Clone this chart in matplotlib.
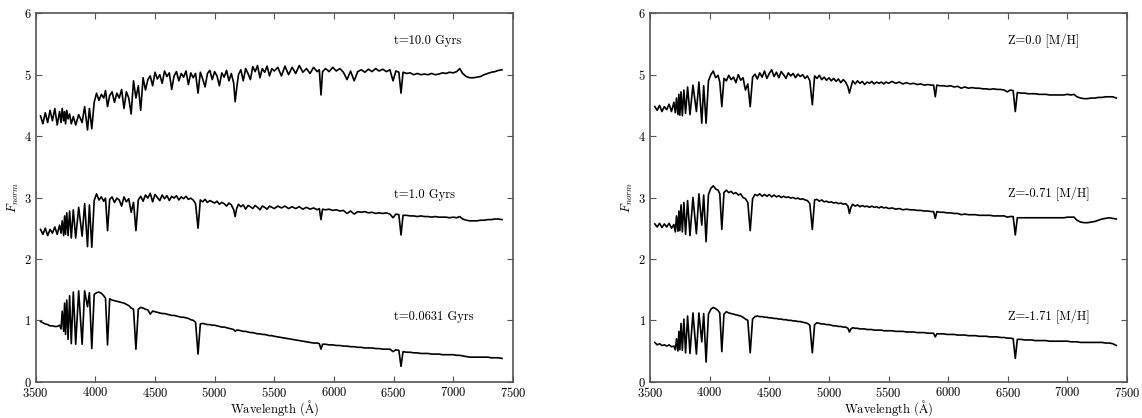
import matplotlib
matplotlib.use("Agg")
import matplotlib.pyplot as plt
import numpy as np

plt.rcParams['font.family'] = ['cmr10', 'DejaVu Serif']
plt.rcParams['mathtext.fontset'] = 'cm'
plt.rcParams['axes.formatter.use_mathtext'] = True

# ---------------- data ----------------
wave = ([3540, 3560, 3580, 3600, 3620, 3640, 3660, 3680, 3700]
        + [3712, 3722, 3734, 3742, 3750, 3760, 3771, 3784, 3798, 3815, 3835, 3860, 3889, 3910, 3934, 3950, 3970, 3990]
        + [4010, 4030, 4050, 4070, 4085, 4102, 4120, 4140, 4160, 4180, 4200, 4220, 4240, 4260, 4280, 4300, 4320, 4340, 4360, 4380]
        + [4400, 4420, 4440, 4460, 4480, 4500, 4520, 4540, 4560, 4580, 4600, 4620, 4640, 4660, 4680, 4700, 4720, 4740, 4760, 4780, 4800, 4820, 4840]
        + [4861, 4880, 4900, 4920, 4940, 4960, 4980, 5000, 5020, 5040, 5060, 5080, 5100, 5120, 5140, 5160, 5172, 5185, 5200, 5220, 5240, 5260, 5280, 5300, 5320, 5340, 5360, 5380, 5400, 5420, 5440, 5460, 5480, 5500]
        + [5530, 5560, 5590, 5620, 5650, 5680, 5710, 5740, 5770, 5800, 5830, 5860, 5878, 5892, 5905, 5930, 5960, 5990, 6020, 6050,
           6080, 6110, 6140, 6170, 6200, 6230, 6260, 6290, 6320, 6350, 6380, 6410, 6440, 6470, 6496, 6520, 6545, 6563, 6580, 6610,
           6640, 6670, 6700, 6730, 6760, 6790, 6820, 6850, 6880, 6910, 6940, 6970, 7000, 7030, 7055, 7080, 7110, 7140, 7170, 7200,
           7230, 7260, 7290, 7320, 7350, 7380, 7410])

# Left panel: age sequence
flux_t10 = ([4.33, 4.20, 4.38, 4.22, 4.42, 4.25, 4.45, 4.18, 4.40]
            + [4.22, 4.45, 4.25, 4.40, 4.20, 4.42, 4.28, 4.36, 4.20, 4.32, 4.18, 4.35, 4.22, 4.48, 4.10, 4.45, 4.12, 4.55]
            + [4.70, 4.58, 4.68, 4.62, 4.74, 4.48, 4.66, 4.72, 4.55, 4.70, 4.62, 4.76, 4.45, 4.72, 4.62, 4.36, 4.90, 4.62, 4.82, 4.42]
            + [4.95, 4.75, 4.92, 4.98, 4.82, 5.04, 4.93, 5.00, 4.86, 5.06, 4.97, 5.03, 4.76, 4.98, 5.05, 4.90, 5.02, 4.96, 5.06, 4.84, 5.03, 4.95, 5.02]
            + [4.70, 5.04, 4.93, 4.80, 5.02, 5.07, 4.92, 5.05, 4.98, 4.82, 5.03, 4.96, 5.07, 4.90, 5.02, 4.86, 4.56, 4.78, 5.00, 5.08, 4.90, 5.10, 5.02, 4.92, 5.13, 5.05, 5.15, 4.95, 5.10, 5.04, 5.14, 4.98, 5.10, 5.06]
            + [5.12, 4.98, 5.14, 5.00, 5.12, 5.02, 5.15, 5.04, 5.10, 5.02, 5.12, 5.05, 5.08, 4.67, 5.05, 5.10, 5.05, 5.12, 5.06, 5.10,
               5.04, 4.92, 5.06, 4.90, 5.05, 5.08, 5.04, 5.09, 5.05, 5.10, 5.06, 5.09, 5.05, 5.08, 4.90, 5.06, 5.04, 4.70, 5.04, 5.02,
               5.03, 5.00, 5.02, 5.00, 5.01, 5.00, 5.02, 5.00, 5.01, 5.03, 5.02, 5.04, 5.03, 5.05, 5.10, 5.02, 4.97, 4.95, 4.95, 4.96,
               4.97, 5.00, 5.02, 5.04, 5.05, 5.07, 5.08])

flux_t1 = ([2.48, 2.40, 2.50, 2.38, 2.48, 2.42, 2.52, 2.40, 2.55]
           + [2.42, 2.62, 2.38, 2.70, 2.40, 2.75, 2.38, 2.78, 2.34, 2.80, 2.34, 2.84, 2.37, 2.90, 2.20, 2.88, 2.19, 2.95]
           + [3.06, 2.96, 3.01, 2.94, 2.99, 2.46, 2.97, 3.01, 2.92, 2.99, 2.96, 2.86, 3.01, 2.93, 2.98, 2.76, 2.92, 2.46, 2.96, 3.02]
           + [2.94, 3.04, 2.99, 3.07, 2.93, 3.05, 3.00, 2.95, 3.04, 2.98, 3.03, 2.95, 3.02, 2.99, 3.03, 2.96, 3.01, 2.98, 3.02, 2.97, 2.99, 2.96, 2.90]
           + [2.50, 2.96, 2.93, 2.97, 2.92, 2.95, 2.93, 2.91, 2.94, 2.89, 2.92, 2.90, 2.86, 2.91, 2.88, 2.80, 2.69, 2.82, 2.89, 2.85, 2.88, 2.81, 2.87, 2.85, 2.82, 2.87, 2.84, 2.80, 2.86, 2.84, 2.81, 2.86, 2.84, 2.82]
           + [2.86, 2.83, 2.86, 2.82, 2.85, 2.82, 2.85, 2.81, 2.84, 2.81, 2.83, 2.80, 2.82, 2.64, 2.81, 2.80, 2.81, 2.79, 2.80, 2.78,
              2.79, 2.74, 2.78, 2.73, 2.77, 2.76, 2.77, 2.75, 2.76, 2.74, 2.75, 2.74, 2.75, 2.73, 2.67, 2.73, 2.72, 2.39, 2.71, 2.71,
              2.70, 2.70, 2.69, 2.70, 2.69, 2.69, 2.68, 2.69, 2.68, 2.68, 2.68, 2.67, 2.68, 2.67, 2.69, 2.65, 2.63, 2.62, 2.62, 2.62,
              2.63, 2.63, 2.64, 2.64, 2.65, 2.65, 2.64])

flux_t0063 = ([0.98, 0.96, 0.94, 0.93, 0.91, 0.91, 0.90, 0.90, 0.92]
              + [0.86, 1.15, 0.82, 1.28, 0.77, 1.33, 0.69, 1.40, 0.62, 1.46, 0.61, 1.48, 0.61, 1.48, 1.22, 1.45, 0.54, 1.42]
              + [1.45, 1.46, 1.44, 1.40, 1.36, 0.60, 1.35, 1.33, 1.32, 1.31, 1.30, 1.29, 1.28, 1.26, 1.24, 1.20, 1.18, 0.53, 1.18, 1.21]
              + [1.20, 1.18, 1.17, 1.10, 1.15, 1.14, 1.13, 1.12, 1.11, 1.11, 1.10, 1.09, 1.08, 1.08, 1.07, 1.06, 1.05, 1.05, 1.04, 1.03, 1.01, 1.00, 0.97]
              + [0.45, 0.94, 0.95, 0.94, 0.93, 0.93, 0.92, 0.92, 0.91, 0.90, 0.89, 0.89, 0.88, 0.87, 0.86, 0.85, 0.82, 0.84, 0.84, 0.83, 0.82, 0.82, 0.81, 0.80, 0.80, 0.79, 0.78, 0.78, 0.77, 0.77, 0.76, 0.75, 0.75, 0.74]
              + [0.73, 0.72, 0.71, 0.70, 0.69, 0.68, 0.67, 0.66, 0.65, 0.64, 0.63, 0.63, 0.62, 0.53, 0.61, 0.61, 0.60, 0.60, 0.59, 0.59,
                 0.58, 0.58, 0.57, 0.57, 0.56, 0.56, 0.55, 0.55, 0.55, 0.54, 0.54, 0.53, 0.53, 0.53, 0.49, 0.52, 0.51, 0.25, 0.49, 0.48,
                 0.48, 0.47, 0.47, 0.46, 0.46, 0.46, 0.45, 0.45, 0.45, 0.44, 0.44, 0.44, 0.44, 0.43, 0.43, 0.42, 0.41, 0.40, 0.40, 0.40,
                 0.40, 0.40, 0.40, 0.39, 0.39, 0.39, 0.38])

# Right panel: metallicity sequence
flux_z00 = ([4.48, 4.42, 4.50, 4.40, 4.48, 4.43, 4.52, 4.40, 4.55]
            + [4.38, 4.62, 4.35, 4.68, 4.34, 4.72, 4.33, 4.75, 4.37, 4.80, 4.35, 4.83, 4.40, 4.88, 4.21, 4.82, 4.21, 4.90]
            + [5.00, 5.06, 4.95, 4.99, 4.88, 4.48, 4.94, 4.90, 4.99, 4.92, 4.96, 4.87, 5.00, 4.91, 4.95, 4.75, 4.85, 4.48, 4.96, 5.01]
            + [4.93, 5.03, 4.96, 5.06, 4.94, 5.02, 5.08, 4.97, 5.04, 4.95, 5.05, 5.00, 4.94, 5.03, 4.98, 5.02, 4.95, 5.01, 4.97, 5.00, 4.94, 4.98, 4.90]
            + [4.51, 4.98, 4.94, 4.99, 4.92, 4.96, 4.91, 4.95, 4.90, 4.94, 4.89, 4.93, 4.87, 4.92, 4.88, 4.80, 4.70, 4.80, 4.90, 4.85, 4.90, 4.86, 4.89, 4.84, 4.88, 4.86, 4.89, 4.85, 4.88, 4.86, 4.88, 4.85, 4.88, 4.86]
            + [4.89, 4.86, 4.88, 4.85, 4.87, 4.85, 4.86, 4.84, 4.85, 4.83, 4.84, 4.83, 4.83, 4.64, 4.83, 4.82, 4.82, 4.81, 4.82, 4.80,
               4.81, 4.78, 4.80, 4.78, 4.79, 4.78, 4.78, 4.77, 4.77, 4.76, 4.77, 4.76, 4.76, 4.75, 4.72, 4.75, 4.74, 4.40, 4.71, 4.70,
               4.70, 4.69, 4.69, 4.69, 4.68, 4.68, 4.68, 4.67, 4.67, 4.67, 4.67, 4.67, 4.68, 4.67, 4.68, 4.64, 4.62, 4.61, 4.61, 4.62,
               4.62, 4.63, 4.63, 4.64, 4.64, 4.64, 4.62])

flux_zm071 = ([2.57, 2.52, 2.58, 2.51, 2.57, 2.52, 2.58, 2.50, 2.56]
              + [2.44, 2.70, 2.45, 2.78, 2.46, 2.88, 2.44, 2.92, 2.40, 2.95, 2.38, 3.00, 2.41, 3.06, 2.55, 3.04, 2.28, 3.05]
              + [3.15, 3.19, 3.14, 3.12, 3.06, 2.48, 3.08, 3.12, 3.08, 3.10, 3.06, 3.08, 3.04, 3.06, 3.00, 2.98, 2.92, 2.46, 2.98, 3.05]
              + [3.03, 3.06, 3.02, 3.05, 3.02, 3.05, 3.01, 3.04, 3.01, 3.03, 3.00, 3.02, 3.00, 3.01, 2.99, 3.00, 2.98, 2.99, 2.97, 2.98, 2.96, 2.95, 2.90]
              + [2.48, 2.96, 2.97, 2.94, 2.96, 2.93, 2.94, 2.92, 2.93, 2.91, 2.92, 2.90, 2.91, 2.89, 2.90, 2.86, 2.74, 2.84, 2.89, 2.86, 2.88, 2.85, 2.87, 2.85, 2.86, 2.84, 2.86, 2.84, 2.85, 2.83, 2.85, 2.83, 2.84, 2.82]
              + [2.83, 2.81, 2.82, 2.80, 2.81, 2.80, 2.80, 2.79, 2.79, 2.78, 2.78, 2.77, 2.77, 2.66, 2.77, 2.76, 2.76, 2.75, 2.75, 2.74,
                 2.74, 2.72, 2.73, 2.72, 2.72, 2.72, 2.71, 2.71, 2.71, 2.71, 2.70, 2.70, 2.70, 2.70, 2.68, 2.69, 2.69, 2.39, 2.67, 2.67,
                 2.67, 2.67, 2.67, 2.67, 2.67, 2.67, 2.67, 2.67, 2.67, 2.67, 2.67, 2.67, 2.68, 2.68, 2.68, 2.63, 2.60, 2.59, 2.59, 2.60,
                 2.61, 2.63, 2.65, 2.66, 2.67, 2.66, 2.65])

flux_zm171 = ([0.64, 0.60, 0.62, 0.59, 0.60, 0.58, 0.60, 0.57, 0.58]
              + [0.52, 0.70, 0.50, 0.82, 0.52, 0.95, 0.51, 1.02, 0.47, 1.07, 0.46, 1.12, 0.45, 1.12, 0.65, 1.11, 0.32, 1.10]
              + [1.18, 1.21, 1.19, 1.16, 1.12, 0.49, 1.10, 1.14, 1.12, 1.11, 1.10, 1.09, 1.08, 1.07, 1.05, 1.02, 1.00, 0.47, 1.02, 1.06]
              + [1.07, 1.06, 1.06, 1.05, 1.05, 1.04, 1.04, 1.03, 1.03, 1.02, 1.02, 1.01, 1.01, 1.00, 1.00, 0.99, 0.99, 0.98, 0.98, 0.97, 0.96, 0.95, 0.92]
              + [0.47, 0.93, 0.96, 0.95, 0.94, 0.94, 0.93, 0.93, 0.92, 0.91, 0.91, 0.90, 0.90, 0.89, 0.89, 0.87, 0.81, 0.86, 0.88, 0.87, 0.87, 0.86, 0.86, 0.86, 0.85, 0.85, 0.85, 0.84, 0.84, 0.84, 0.84, 0.83, 0.83, 0.83]
              + [0.83, 0.82, 0.82, 0.82, 0.81, 0.81, 0.81, 0.80, 0.80, 0.80, 0.79, 0.79, 0.79, 0.73, 0.78, 0.78, 0.78, 0.77, 0.77, 0.77,
                 0.76, 0.76, 0.76, 0.75, 0.75, 0.75, 0.74, 0.74, 0.74, 0.73, 0.73, 0.73, 0.72, 0.72, 0.71, 0.71, 0.70, 0.38, 0.69, 0.69,
                 0.68, 0.68, 0.68, 0.67, 0.67, 0.67, 0.67, 0.66, 0.66, 0.66, 0.66, 0.66, 0.66, 0.65, 0.65, 0.65, 0.64, 0.64, 0.64, 0.64,
                 0.64, 0.64, 0.64, 0.63, 0.63, 0.62, 0.59])

left_labels = ['t=10.0 Gyrs', 't=1.0 Gyrs', 't=0.0631 Gyrs']
right_labels = ['Z=0.0 [M/H]', 'Z=-0.71 [M/H]', 'Z=-1.71 [M/H]']
label_y = [5.5, 3.0, 1.0]
label_x = 6500

x_ticks = [3500, 4000, 4500, 5000, 5500, 6000, 6500, 7000, 7500]
y_ticks = [0, 1, 2, 3, 4, 5, 6]

for f in (flux_t10, flux_t1, flux_t0063, flux_z00, flux_zm071, flux_zm171):
    assert len(f) == len(wave), (len(f), len(wave))

# ---------------- plot ----------------
fig = plt.figure(figsize=(11.42, 4.18), dpi=100)
ax1 = fig.add_axes([0.0313, 0.0868, 0.4177, 0.8814])
ax2 = fig.add_axes([0.5692, 0.0868, 0.4177, 0.8814])

panels = [(ax1, [flux_t10, flux_t1, flux_t0063], left_labels),
          (ax2, [flux_z00, flux_zm071, flux_zm171], right_labels)]

for ax, fluxes, labels in panels:
    for fl in fluxes:
        ax.plot(wave, fl, color='black', lw=1.2)
    for lab, yy in zip(labels, label_y):
        ax.text(label_x, yy, lab, fontsize=9, va='baseline', ha='left')
    ax.set_xlim(3500, 7500)
    ax.set_ylim(0, 6)
    ax.set_xticks(x_ticks)
    ax.set_yticks(y_ticks)
    ax.tick_params(direction='in', top=True, right=True, length=4, width=0.8,
                   color='#555555', labelsize=9, pad=3)
    for s in ax.spines.values():
        s.set_color('#555555')
        s.set_linewidth(1.2)
    ax.set_xlabel(r'Wavelength ($\mathrm{\AA}$)', fontsize=9, labelpad=-1)
    ax.set_ylabel(r'$F_{norm}$', fontsize=9, labelpad=2)

fig.savefig('out.png', dpi=100)
